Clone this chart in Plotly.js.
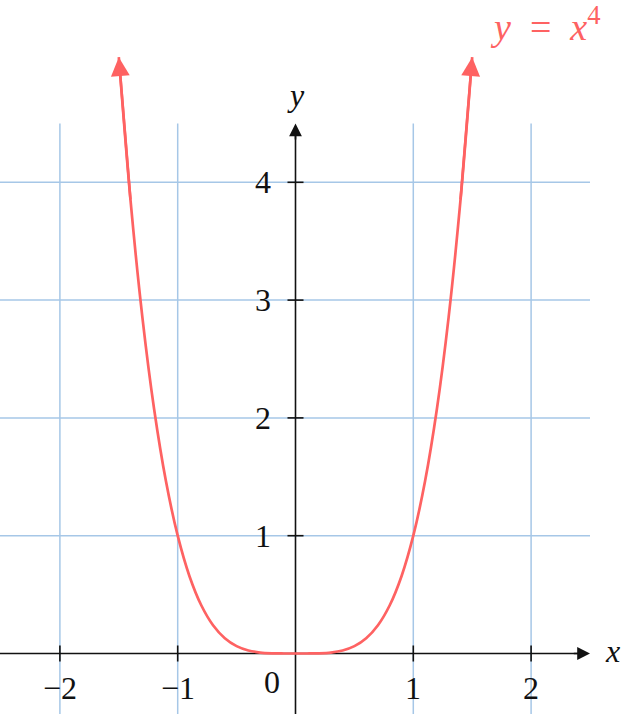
<!DOCTYPE html>
<html>
<head>
<meta charset="utf-8">
<script src="https://cdn.plot.ly/plotly-3.0.1.min.js"></script>
<style>html,body{margin:0;padding:0;background:#fff;}#chart{width:624px;height:714px;}</style>
</head>
<body>
<div id="chart"></div>
<script>
// Curve y = x^4
const xVals = [-1.5,-1.4,-1.3,-1.2,-1.1,-1.0,-0.9,-0.8,-0.7,-0.6,-0.5,-0.4,-0.3,-0.2,-0.1,0,
               0.1,0.2,0.3,0.4,0.5,0.6,0.7,0.8,0.9,1.0,1.1,1.2,1.3,1.4,1.5];
const yVals = [5.0625,3.8416,2.8561,2.0736,1.4641,1,0.6561,0.4096,0.2401,0.1296,0.0625,0.0256,0.0081,0.0016,0.0001,0,
               0.0001,0.0016,0.0081,0.0256,0.0625,0.1296,0.2401,0.4096,0.6561,1,1.4641,2.0736,2.8561,3.8416,5.0625];
const xTicks = [-2,-1,1,2];
const xTickLabels = ['\u22122','\u22121','1','2'];
const yTicks = [1,2,3,4];
const yTickLabels = ['1','2','3','4'];
const curveLabel = '<i>y</i>\u2002=\u2002<i>x</i><sup>4</sup>';

const X_MIN = -2.5085, X_MAX = 2.7886, Y_MIN = -0.5136, Y_MAX = 5.5475;
const GRID_TOP = 4.5, GRID_RIGHT = 2.5;
const TICK = 0.068;
const RED = '#fe6262', GRID = '#a6c7e7', BLACK = '#111';
const FONT = '"Liberation Serif"';
const FS = 32;

const shapes = [];
xTicks.forEach(v => shapes.push({type:'line', layer:'below', x0:v, x1:v, y0:Y_MIN, y1:GRID_TOP, line:{color:GRID, width:1.5}}));
yTicks.forEach(v => shapes.push({type:'line', layer:'below', x0:X_MIN, x1:GRID_RIGHT, y0:v, y1:v, line:{color:GRID, width:1.5}}));
// axis lines
shapes.push({type:'line', layer:'below', x0:X_MIN, x1:GRID_RIGHT-0.05, y0:0, y1:0, line:{color:BLACK, width:1.6}});
shapes.push({type:'line', layer:'below', x0:0, x1:0, y0:Y_MIN, y1:GRID_TOP-0.05, line:{color:BLACK, width:1.6}});
// tick marks
xTicks.forEach(v => shapes.push({type:'line', layer:'below', x0:v, x1:v, y0:-TICK, y1:TICK, line:{color:BLACK, width:1.6}}));
yTicks.forEach(v => shapes.push({type:'line', layer:'below', x0:-TICK, x1:TICK, y0:v, y1:v, line:{color:BLACK, width:1.6}}));

const annotations = [];
// axis arrowheads
annotations.push({x:GRID_RIGHT, y:0, ax:GRID_RIGHT-0.15, ay:0, axref:'x', ayref:'y', xref:'x', yref:'y', text:'', showarrow:true, arrowhead:2, arrowsize:1.6, arrowwidth:1.6, arrowcolor:BLACK, standoff:0});
annotations.push({x:0, y:GRID_TOP, ax:0, ay:GRID_TOP-0.15, axref:'x', ayref:'y', xref:'x', yref:'y', text:'', showarrow:true, arrowhead:2, arrowsize:1.6, arrowwidth:1.6, arrowcolor:BLACK, standoff:0});
// curve arrowheads
const n = xVals.length;
annotations.push({x:xVals[0], y:yVals[0], ax:xVals[1], ay:yVals[1], axref:'x', ayref:'y', xref:'x', yref:'y', text:'', showarrow:true, arrowhead:2, arrowsize:1.45, arrowwidth:2.6, arrowcolor:RED, standoff:0});
annotations.push({x:xVals[n-1], y:yVals[n-1], ax:xVals[n-2], ay:yVals[n-2], axref:'x', ayref:'y', xref:'x', yref:'y', text:'', showarrow:true, arrowhead:2, arrowsize:1.45, arrowwidth:2.6, arrowcolor:RED, standoff:0});
// tick labels
xTicks.forEach((v,i) => annotations.push({x:v, y:-0.293, xref:'x', yref:'y', text:xTickLabels[i], showarrow:false, xanchor:'center', yanchor:'middle', font:{family:FONT, size:FS, color:BLACK}}));
yTicks.forEach((v,i) => annotations.push({x:-0.19, y:v, xref:'x', yref:'y', text:yTickLabels[i], showarrow:false, xanchor:'right', yanchor:'middle', font:{family:FONT, size:FS, color:BLACK}}));
annotations.push({x:-0.2, y:-0.24, xref:'x', yref:'y', text:'0', showarrow:false, xanchor:'center', yanchor:'middle', font:{family:FONT, size:FS, color:BLACK}});
// axis labels
annotations.push({x:0, y:4.74, xref:'x', yref:'y', text:'<i>y</i>', showarrow:false, xanchor:'center', yanchor:'middle', font:{family:FONT, size:FS, color:BLACK}});
annotations.push({x:2.695, y:0.02, xref:'x', yref:'y', text:'<i>x</i>', showarrow:false, xanchor:'center', yanchor:'middle', font:{family:FONT, size:FS, color:BLACK}});
// curve label
annotations.push({x:2.12, y:5.34, xref:'x', yref:'y', text:curveLabel, showarrow:false, xanchor:'center', yanchor:'middle', font:{family:FONT, size:38, color:RED}});

const trace = {x:xVals, y:yVals, type:'scatter', mode:'lines', line:{color:RED, width:2.7, shape:'spline', smoothing:0.8}, hoverinfo:'skip'};

const layout = {
  width:624, height:714,
  margin:{l:0, r:0, t:0, b:0, pad:0},
  paper_bgcolor:'#fff', plot_bgcolor:'#fff',
  font:{family:FONT},
  showlegend:false,
  xaxis:{range:[X_MIN, X_MAX], showgrid:false, zeroline:false, showline:false, showticklabels:false, ticks:'', fixedrange:true},
  yaxis:{range:[Y_MIN, Y_MAX], showgrid:false, zeroline:false, showline:false, showticklabels:false, ticks:'', fixedrange:true},
  shapes:shapes, annotations:annotations
};
Plotly.newPlot('chart', [trace], layout, {staticPlot:true});
</script>
</body>
</html>
